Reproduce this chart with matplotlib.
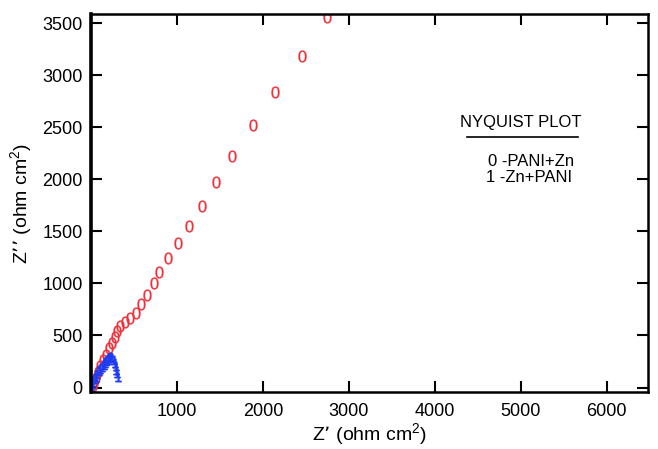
import numpy as np
import matplotlib
matplotlib.use('Agg')
import matplotlib.pyplot as plt

plt.rcParams['font.family'] = ['Liberation Sans', 'DejaVu Sans']
plt.rcParams['mathtext.default'] = 'regular'

# series 0: PANI+Zn (red "0" markers)
z_re_0 = [2750, 2450, 2145, 1885, 1645, 1460, 1290, 1140, 1010, 893, 790, 731,
          650, 580, 522, 452, 394, 336, 302, 278, 244, 209, 174, 139, 104, 81,
          58, 35, 20]
z_im_0 = [3560, 3180, 2840, 2520, 2225, 1970, 1745, 1553, 1390, 1240, 1111, 1005,
          889, 803, 716, 668, 630, 591, 543, 486, 428, 380, 312, 264, 207, 149,
          91, 43, 14]

# series 1: Zn+PANI (blue "1" markers)
z_re_1 = [5, 15, 28, 42, 58, 75, 92, 110, 128, 146, 163, 180, 197, 212, 226,
          238, 250, 262, 275, 286, 296, 306, 318]
z_im_1 = [10, 30, 55, 80, 105, 130, 155, 178, 200, 220, 238, 252, 265, 280, 292,
          296, 285, 262, 235, 205, 171, 135, 104]

xticks = [1000, 2000, 3000, 4000, 5000, 6000]
yticks = [0, 500, 1000, 1500, 2000, 2500, 3000, 3500]

W, H = 658, 449
fig = plt.figure(figsize=(W / 100, H / 100), dpi=100)
ax = fig.add_axes([91 / W, 1 - 392 / H, 557 / W, 378 / H])

ax.plot(z_re_0, z_im_0, linestyle='none', marker='$0$', markersize=8.5,
        color='#f0303a', markeredgewidth=0.2)
ax.plot(z_re_1, z_im_1, linestyle='none', marker='$1$', markersize=6.5,
        color='#1f3cf0', markeredgewidth=0.6)

ax.set_xlim(0, 6480)
ax.set_ylim(-43, 3587)
ax.set_xticks(xticks)
ax.set_yticks(yticks)
ax.tick_params(direction='in', length=8, width=1.5, top=True, right=True,
               labelsize=13)
ax.tick_params(axis='x', pad=8)
ax.tick_params(axis='y', pad=6)
for side in ax.spines.values():
    side.set_linewidth(1.8)
ax.spines['left'].set_linewidth(2.6)

ax.set_xlabel('Z\u2019 (ohm cm$^2$)', fontsize=14, labelpad=1)
ax.set_ylabel('Z\u2019\u2019 (ohm cm$^2$)', fontsize=14, labelpad=6)

# legend block
fig.text(521 / W, 1 - 122 / H, 'NYQUIST PLOT', fontsize=12,
         ha='center', va='center')
fig.add_artist(plt.Line2D([467 / W, 578 / W], [1 - 137 / H, 1 - 137 / H],
                          color='black', linewidth=1.2))
fig.text(531 / W, 1 - 161 / H, '0 -PANI+Zn', fontsize=12,
         ha='center', va='center')
fig.text(529 / W, 1 - 177 / H, '1 -Zn+PANI', fontsize=12,
         ha='center', va='center')

fig.savefig('out.png', dpi=100)
